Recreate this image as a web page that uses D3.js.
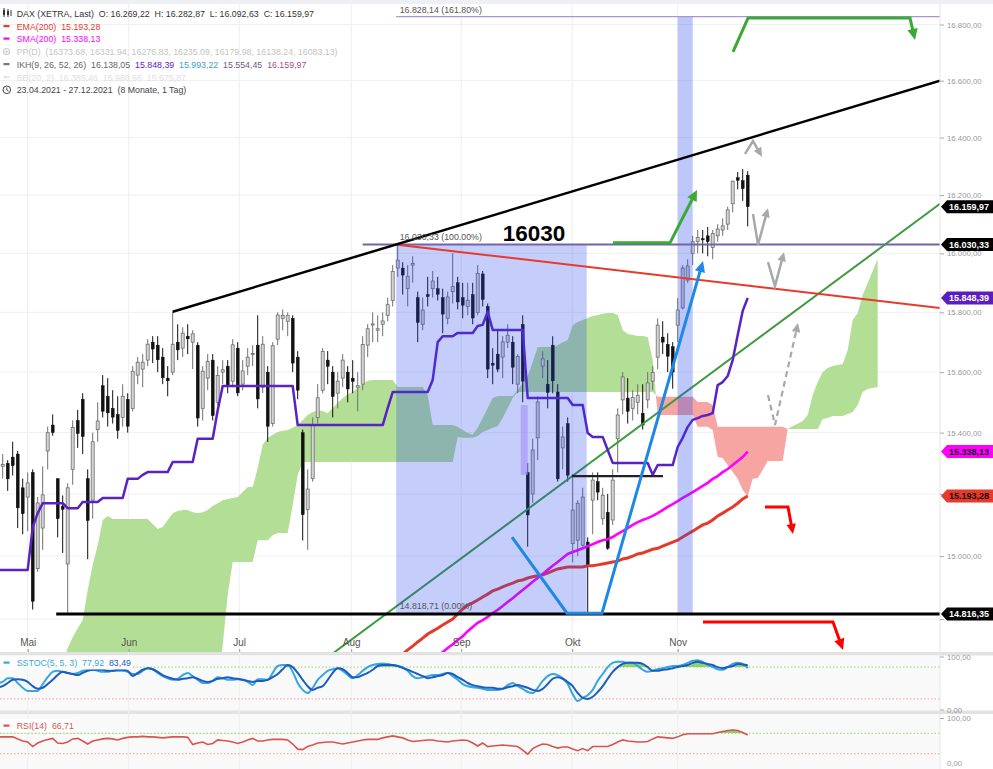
<!DOCTYPE html>
<html><head><meta charset="utf-8">
<script src="https://cdn.jsdelivr.net/npm/d3@7"></script>
<style>body{margin:0;background:#fff;}svg{display:block;font-family:"Liberation Sans",Arial,sans-serif;}text{white-space:pre;}</style>
</head><body><svg id="c" width="993" height="769"></svg>
<script>
// ---------------- DATA ----------------
const candleStart = -6; // trading-day index of first candle (0 = 03.05.2021)
const opens  = [15190,15290,15300,15320,15330,15220,15190,15270,14960,15090,15340,15425,15250,15160,14975,15280,15440,15510,15250,15180,15410,15555,15520,15480,15460,15450,15510,15480,15590,15610,15640,15700,15690,15650,15580,15600,15700,15680,15720,15700,15690,15480,15580,15640,15500,15600,15620,15570,15680,15560,15620,15660,15690,15550,15600,15430,15710,15780,15770,15780,15650,15400,15150,15250,15450,15540,15640,15600,15530,15580,15600,15580,15550,15560,15690,15760,15740,15760,15790,15840,15950,15950,15880,15960,15850,15760,15860,15880,15880,15850,15780,15870,15900,15850,15820,15860,15800,15930,15820,15630,15660,15650,15700,15700,15560,15760,15270,15200,15383,15620,15560,15690,15534,15350,15430,15040,15051,15035,15045,15180,15240,15120,15141,15116,15380,15508,15514,15480,15500,15464,15508,15570,15650,15717,15693,15685,15757,15815,15909,16000,16040,16050,16060,16020,16060,16080,16100,16170,16260,16250,16269.22];
const highs  = [15300,15330,15310,15370,15340,15250,15270,15280,15190,15290,15420,15460,15250,15195,15235,15440,15475,15530,15280,15400,15500,15590,15580,15540,15520,15560,15530,15620,15650,15660,15710,15720,15720,15680,15620,15802,15760,15750,15760,15740,15700,15620,15660,15660,15620,15640,15640,15710,15700,15640,15680,15690,15790,15720,15620,15700,15800,15810,15800,15790,15670,15410,15280,15450,15560,15680,15670,15620,15600,15660,15620,15640,15600,15720,15760,15800,15790,15800,15850,15960,16030.33,15970,15960,15990,15870,15850,15920,15940,15920,15880,15870,16000,15920,15900,15900,15900,15960,15940,15830,15680,15740,15720,15760,15720,15660,15790,15300,15380,15520,15670,15640,15720,15560,15420,15450,15265,15180,15220,15060,15270,15270,15220,15200,15280,15480,15600,15580,15540,15560,15560,15600,15620,15780,15770,15730,15700,15848,15960,15980,16060,16080,16080,16090,16080,16100,16120,16160,16250,16280,16290,16282.87];
const lows   = [15150,15250,15210,15260,15090,15070,15080,14830,14950,15020,15280,15390,15060,15010,14816.35,15230,15350,15330,14990,15120,15370,15450,15420,15430,15380,15420,15400,15470,15560,15550,15620,15630,15600,15560,15520,15590,15640,15650,15660,15610,15420,15440,15540,15440,15490,15560,15530,15550,15520,15540,15590,15620,15480,15530,15370,15420,15690,15740,15720,15600,15510,15050,15020,15240,15430,15530,15560,15450,15480,15550,15500,15530,15470,15540,15650,15700,15700,15720,15770,15820,15920,15860,15820,15900,15700,15740,15820,15850,15840,15730,15760,15830,15810,15780,15790,15760,15790,15820,15580,15560,15600,15580,15680,15560,15530,15500,15030,15170,15310,15580,15480,15530,15240,15280,15240,14980,15000,15030,14818.71,15070,15180,15100,15020,15100,15270,15460,15430,15440,15460,15410,15480,15540,15610,15660,15600,15545,15700,15810,15900,15960,16000,16000,15990,15980,16040,16060,16080,16140,16220,16180,16092.63];
const closes = [15280,15296,15249,15292,15155,15136,15236,14856,15171,15197,15400,15400,15120,15150,15220,15417,15397,15387,15114,15370,15438,15470,15465,15451,15407,15520,15421,15603,15633,15633,15693,15677,15641,15581,15571,15693,15674,15730,15711,15728,15448,15603,15636,15456,15589,15608,15554,15691,15531,15604,15650,15662,15511,15693,15421,15688,15791,15790,15789,15630,15540,15133,15216,15423,15515,15669,15619,15519,15570,15640,15544,15569,15555,15692,15745,15761,15745,15771,15826,15938,15977,15926,15922,15966,15766,15808,15853,15906,15861,15794,15852,15887,15835,15824,15841,15781,15932,15843,15610,15623,15610,15701,15723,15616,15652,15570,15132,15343,15501,15644,15532,15571,15249,15386,15261,15148,15170,15190,14970,15245,15206,15196,15025,15245,15458,15584,15470,15516,15523,15425,15564,15599,15757,15700,15653,15600,15808,15950,15957,16040,16054,16046,16040,16068,16083,16094,16149,16248,16251,16222,16159.97];

// Ichimoku Kijun-sen (purple), same start as candles
const kijun = [14956,14956,14956,14956,14956,14956,14956,15093,15138,15170,15170,15170,15170,15170,15154,15154,15154,15174,15174,15174,15174,15187,15187,15187,15187,15187,15249,15249,15249,15262,15271,15271,15271,15271,15271,15304,15304,15304,15304,15304,15380,15380,15380,15380,15474,15554,15554,15554,15554,15554,15554,15554,15554,15554,15554,15554,15554,15554,15554,15554,15425,15425,15425,15425,15425,15425,15425,15425,15425,15425,15425,15425,15425,15425,15425,15425,15425,15425,15481,15534,15534,15534,15534,15534,15534,15534,15534,15574,15700,15720,15720,15720,15731,15731,15731,15731,15754,15758,15802,15741,15741,15741,15741,15741,15741,15741,15514,15514,15514,15514,15514,15514,15514,15514,15514,15491,15491,15491,15399,15386,15386,15386,15343,15301,15301,15301,15301,15301,15301,15301,15301,15262,15294,15294,15294,15294,15353,15383,15419,15442,15448,15455,15458,15464,15557,15567,15587,15640,15724,15805,15848.39];

// Ichimoku cloud (Senkou spans, already shifted 26 days ahead)
const cloudStart = 6;
const spanA = [14609,14665,14709,14743,14771,14797,14892,14972,15035,15116,15129,15119,15119,15119,15119,15119,15119,15119,15119,15103,15087,15093,15116,15138,15145,15148,15148,15141,15138,15141,15148,15161,15170,15180,15184,15187,15190,15206,15223,15223,15284,15360,15383,15393,15402,15406,15409,15416,15425,15442,15458,15468,15474,15471,15464,15481,15498,15514,15527,15534,15547,15561,15571,15574,15574,15574,15574,15574,15551,15551,15551,15551,15551,15551,15524,15425,15425,15425,15425,15425,15419,15409,15399,15393,15416,15448,15481,15514,15521,15521,15521,15521,15541,15564,15587,15634,15684,15684,15684,15684,15690,15700,15707,15757,15768,15774,15781,15788,15791,15795,15798,15798,15791,15741,15727,15724,15721,15721,15717,15640,15458,15458,15458,15458,15458,15458,15458,15458,15419,15419,15419,15409,15320,15317,15294,15271,15249,15213,15193,15249,15252,15278,15307,15307,15307,15307,15412,15422,15429,15438,15458,15524,15567,15600,15614,15620,15624,15627,15674,15774,15798,15859,15899,15940,15981];
const spanB = [14578,14578,14578,14578,14578,14578,14578,14578,14578,14578,14578,14578,14578,14578,14578,14578,14578,14578,14578,14578,14578,14578,14578,14578,14578,14578,14578,14578,14578,14578,14578,14578,14578,14718,14876,14981,14981,14981,14981,14981,15051,15051,15051,15067,15074,15074,15074,15164,15262,15304,15304,15304,15304,15304,15304,15304,15304,15304,15304,15304,15304,15304,15304,15304,15304,15304,15304,15304,15304,15304,15304,15304,15304,15304,15304,15304,15304,15304,15304,15304,15386,15383,15383,15383,15389,15402,15409,15416,15422,15448,15481,15514,15534,15534,15534,15534,15534,15534,15534,15534,15534,15534,15534,15534,15534,15534,15534,15534,15534,15534,15534,15534,15534,15534,15534,15534,15534,15534,15534,15534,15518,15518,15518,15518,15518,15518,15518,15518,15501,15501,15501,15491,15419,15419,15419,15419,15419,15419,15419,15419,15419,15419,15419,15419,15419,15419,15412,15412,15412,15412,15412,15412,15412,15445,15448,15455,15455,15455,15461,15468,15491,15534,15544,15547,15551];

const smaStart = 82;
const sma200 = [14684,14696,14709,14721,14734,14746,14762,14775,14788,14797,14807,14819,14829,14841,14854,14866,14879,14892,14905,14918,14930,14943,14956,14969,14981,14994,15007,15013,15019,15025,15032,15038,15045,15051,15054,15061,15071,15080,15090,15100,15109,15116,15122,15129,15138,15148,15158,15167,15177,15187,15196,15206,15216,15226,15236,15249,15258,15271,15281,15294,15307,15320,15338.13];
const emaStart = 75;
const ema200 = [14690,14703,14715,14728,14740,14753,14762,14771,14781,14791,14800,14816,14832,14844,14851,14860,14870,14879,14889,14895,14902,14908,14914,14921,14924,14930,14934,14937,14940,14946,14953,14959,14962,14965,14965,14965,14965,14969,14969,14972,14975,14978,14981,14984,14991,14994,15000,15007,15010,15016,15022,15025,15032,15038,15045,15051,15061,15071,15080,15090,15100,15106,15116,15129,15138,15148,15158,15170,15184,15193.28];

// Indicators (start at candleStart)
const stochK = [50,52,59,59,50,41,35,35,35,48,61,71,73,71,69,67,69,73,75,75,73,71,71,73,73,73,71,67,67,73,78,76,69,63,59,56,58,65,69,63,56,50,50,54,61,59,56,56,57,56,52,46,57,57,56,69,82,84,84,71,50,37,31,41,56,65,73,76,78,73,65,59,65,73,80,84,86,87,86,84,82,80,73,63,59,61,63,65,65,67,69,63,56,48,44,42,41,39,37,37,37,39,46,50,44,39,33,31,41,54,63,67,65,59,48,29,16,22,27,37,54,67,80,88,90,90,88,88,82,75,71,73,76,78,80,82,82,84,88,92,93,90,84,80,76,75,80,86,88,86,77.92];
const stochD = [42,44,50,56,57,56,52,44,39,41,48,56,65,71,69,67,65,69,73,75,75,75,73,73,75,75,73,63,69,75,78,76,71,65,61,58,56,58,59,61,58,54,52,54,58,59,61,59,58,56,54,52,54,54,56,61,67,76,84,80,69,56,44,37,41,44,56,69,78,76,69,61,61,65,69,75,82,84,84,84,82,78,75,71,67,63,59,61,63,65,69,67,61,56,50,46,44,42,41,41,39,39,42,44,46,44,41,37,35,39,48,58,61,58,52,44,31,22,20,24,33,44,58,71,80,86,88,88,88,86,80,73,73,75,76,78,80,82,84,88,90,88,86,84,80,78,80,82,86,85,83.49];
const rsi14 = [63,63,63,63,59,55,53,44,51,55,58,60,51,50,53,59,60,55,49,55,57,59,60,59,57,60,62,63,63,64,63,63,62,61,62,63,63,63,62,48,51,53,48,50,57,56,55,53,50,53,57,60,55,55,57,58,58,58,57,49,39,38,44,47,51,52,53,53,51,49,51,53,55,57,58,58,58,61,63,65,63,61,57,54,55,56,57,57,55,54,53,55,56,57,56,51,45,51,44,45,46,47,46,45,44,37,29,40,45,49,48,44,41,43,43,39,36,40,36,44,44,44,44,48,53,57,55,54,53,53,54,59,63,62,61,60,63,67,69,69,69,69,69,69,71.5,73.5,75.5,76.5,75.5,71.5,66.71];

const priceTicks = [14800,15000,15200,15400,15600,15800,16000,16200,16400,16600,16800];
const hiddenTickLabels = [14800,15200]; // covered by value tags in the original
const monthLabels = ["Mai","Jun","Jul","Aug","Sep","Okt","Nov"];
const monthIdx = [0,20.2,42.3,64.7,86.7,108.9,130];

// Fibonacci retracement and drawings (trading-day index, price)
const fibHigh = {i:74, p:16030.33}, fibLow = {i:112, p:14818.71}, fibExt = 16828.14;
const supportLow = {i:5.7, p:14816.35};
const upperTrend = [[29,15802],[182.46,16600]];
const redTrend = [[73.5,16030.33],[182.46,15815]];
const greenTrend = [[58,14657],[182.46,16170]];
const blueV = [[96.86,15061],[107.86,14818.71],[114.86,14818.71],[135.06,15974]];
const blackShort = [[108.86,15258],[127.06,15258]];
const greenArrowMid = [[117.06,16036],[128.46,16036],[133.86,16218]];
const greenArrowTop = [[141.06,16702],[144.06,16823],[176.46,16823],[177.46,16745]];
const redArrowMid = [[147.46,15158],[152.06,15158],[153.06,15071]];
const redArrowLow = [[135.06,14791],[161.06,14791],[163.06,14703]];
const grayCaret = [[143.46,16343],[145.06,16388],[146.86,16333]];
const grayV1 = [[145.06,16135],[146.06,16030],[148.06,16155]];
const grayV2 = [[148.06,15970],[149.46,15889],[151.26,16004]];
const grayDash = [[148.06,15524],[149.46,15425],[154.06,15764]];
const novBand = [130,133];
const gapZone = [98.6,100,15262,15491];

const badges = [
  {p:16159.97, bg:"#000", fg:"#fff"},
  {p:16030.33, bg:"#000", fg:"#fff"},
  {p:15848.39, bg:"#5a1ec0", fg:"#fff"},
  {p:15338.13, bg:"#ff00ff", fg:"#111"},
  {p:15193.28, bg:"#e8392b", fg:"#111"},
  {p:14816.35, bg:"#000", fg:"#fff"}
];

// ---------------- CHART ----------------
const svg = d3.select("#c");
const loc = d3.formatLocale({decimal:",",thousands:".",grouping:[3],currency:["",""]});
const fmt = loc.format(",.2f");
const x = d3.scaleLinear().domain([-5.54,182.46]).range([0,940]);
const y = d3.scaleLog().domain([15000,16800]).range([556.1,24.5]);
const ys = d3.scaleLinear().domain([0,100]).range([709.5,656.5]);
const yr = d3.scaleLinear().domain([0,100]).range([769,718]);
const F = "Liberation Sans, Arial, sans-serif";

svg.append("rect").attr("width",993).attr("height",769).attr("fill","#fff");
svg.append("rect").attr("width",993).attr("height",4).attr("fill","#eef0f3");
svg.append("rect").attr("x",0).attr("y",652).attr("width",993).attr("height",3.5).attr("fill","#e2e2e2");
svg.append("rect").attr("x",0).attr("y",655.5).attr("width",940).attr("height",55).attr("fill","#f9f9f9");
svg.append("rect").attr("x",0).attr("y",710.5).attr("width",993).attr("height",3.5).attr("fill","#e2e2e2");
svg.append("rect").attr("x",0).attr("y",714).attr("width",940).attr("height",55).attr("fill","#f9f9f9");

const defs = svg.append("defs");
defs.append("clipPath").attr("id","pc").append("rect").attr("x",0).attr("y",4).attr("width",940).attr("height",648);
defs.append("clipPath").attr("id","sc").append("rect").attr("x",0).attr("y",655.5).attr("width",940).attr("height",55);
defs.append("clipPath").attr("id","rc").append("rect").attr("x",0).attr("y",714).attr("width",940).attr("height",55);
defs.append("clipPath").attr("id","s80").append("rect").attr("x",0).attr("y",655).attr("width",940).attr("height",ys(80)-655);
defs.append("clipPath").attr("id","r70").append("rect").attr("x",0).attr("y",714).attr("width",940).attr("height",yr(70)-714);

const grid = svg.append("g");
priceTicks.forEach(t=>grid.append("line").attr("x1",0).attr("x2",940).attr("y1",y(t)).attr("y2",y(t)).attr("stroke","#f0f0f0"));
monthIdx.forEach(t=>grid.append("line").attr("x1",x(t)).attr("x2",x(t)).attr("y1",4).attr("y2",769).attr("stroke","#eeeeee"));

const P = svg.append("g").attr("clip-path","url(#pc)");

// cloud
(function(){
  const pts = spanA.map((a,i)=>({k:cloudStart+i,a:a,b:spanB[i]}));
  const runs=[]; let cur=null;
  for(let i=0;i<pts.length;i++){
    const p=pts[i], s=p.a>=p.b;
    if(!cur){cur={s:s,pts:[p]};continue;}
    if(s===cur.s){cur.pts.push(p);}
    else{
      const q=pts[i-1];
      const t=(q.a-q.b)/((q.a-q.b)-(p.a-p.b));
      const v=q.a+t*(p.a-q.a);
      const c={k:q.k+t*(p.k-q.k),a:v,b:v};
      cur.pts.push(c); runs.push(cur); cur={s:s,pts:[c,p]};
    }
  }
  runs.push(cur);
  runs.forEach(r=>{
    const poly = r.pts.map(d=>[x(d.k),y(d.a)]).concat(r.pts.slice().reverse().map(d=>[x(d.k),y(d.b)]));
    P.append("path").attr("d",d3.line()(poly)+"Z").attr("fill",r.s?"#b2df95":"#f6a5a2");
  });
})();

// candles
const cg = P.append("g");
opens.forEach((o,i)=>{
  const k=i+candleStart, c=closes[i], up=c>=o;
  const cx=x(k);
  const col = up?"#6f6f6f":"#111";
  cg.append("line").attr("x1",cx).attr("x2",cx).attr("y1",y(highs[i])).attr("y2",y(lows[i])).attr("stroke",col).attr("stroke-width",1);
  const top=y(Math.max(o,c)), bot=y(Math.min(o,c));
  cg.append("rect").attr("x",cx-1.5).attr("y",top).attr("width",3).attr("height",Math.max(1,bot-top))
    .attr("fill",up?"#d4d4d4":"#111").attr("stroke",col).attr("stroke-width",up?0.8:0.4);
});

const ln = d3.line().x(d=>x(d[0])).y(d=>y(d[1]));
P.append("path").attr("d",ln(greenTrend)).attr("stroke","#3d9c3d").attr("stroke-width",2).attr("fill","none");
P.append("path").attr("d",ln(ema200.map((v,i)=>[emaStart+i,v]))).attr("stroke","#e53a2a").attr("stroke-width",3).attr("fill","none");
P.append("path").attr("d",ln(sma200.map((v,i)=>[smaStart+i,v]))).attr("stroke","#ff00ff").attr("stroke-width",2.6).attr("fill","none");
P.append("path").attr("d",ln(kijun.map((v,i)=>[candleStart+i,v]))).attr("stroke","#5a22c4").attr("stroke-width",2.5).attr("fill","none").attr("stroke-linejoin","round");

P.append("rect").attr("x",x(gapZone[0])).attr("width",x(gapZone[1])-x(gapZone[0])).attr("y",y(gapZone[3])).attr("height",y(gapZone[2])-y(gapZone[3])).attr("fill","#d9b8ff").attr("opacity",0.7);
P.append("rect").attr("x",x(fibHigh.i)-1.5).attr("width",x(fibLow.i)-x(fibHigh.i)+0.5).attr("y",y(fibHigh.p)).attr("height",y(fibLow.p)-y(fibHigh.p)).attr("fill","rgb(40,70,240)").attr("opacity",0.27);
P.append("rect").attr("x",x(novBand[0])).attr("width",x(novBand[1])-x(novBand[0])).attr("y",y(fibExt)).attr("height",y(fibLow.p)-y(fibExt)).attr("fill","rgb(40,70,240)").attr("opacity",0.3);

P.append("line").attr("x1",x(67)).attr("x2",940).attr("y1",y(fibHigh.p)).attr("y2",y(fibHigh.p)).attr("stroke","#7565a8").attr("stroke-width",1.8);
P.append("line").attr("x1",x(fibHigh.i)-1.5).attr("x2",940).attr("y1",y(fibExt)).attr("y2",y(fibExt)).attr("stroke","#a893dc").attr("stroke-width",1.4);
P.append("line").attr("x1",x(supportLow.i)).attr("x2",940).attr("y1",y(supportLow.p)).attr("y2",y(supportLow.p)).attr("stroke","#000").attr("stroke-width",3);

P.append("path").attr("d",ln(redTrend)).attr("stroke","#e8392b").attr("stroke-width",2).attr("fill","none");
P.append("path").attr("d",ln(upperTrend)).attr("stroke","#000").attr("stroke-width",2.5).attr("fill","none");
P.append("path").attr("d",ln(blackShort)).attr("stroke","#222").attr("stroke-width",2.2).attr("fill","none");

function arrow(pts,color,w,head,dash){
  const Q=pts.map(d=>[x(d[0]),y(d[1])]);
  const n=Q.length,a=Q[n-2],b=Q[n-1];
  const ang=Math.atan2(b[1]-a[1],b[0]-a[0]);
  const L=head, W=head*0.95;
  const cut=[b[0]-Math.cos(ang)*L*0.6,b[1]-Math.sin(ang)*L*0.6];
  const lp=Q.slice(0,n-1).concat([cut]);
  P.append("path").attr("d",d3.line()(lp)).attr("fill","none").attr("stroke",color).attr("stroke-width",w).attr("stroke-dasharray",dash||null).attr("stroke-linejoin","miter");
  const base=[b[0]-Math.cos(ang)*L,b[1]-Math.sin(ang)*L];
  const nx=-Math.sin(ang),ny=Math.cos(ang);
  P.append("path").attr("d",`M${b[0]},${b[1]}L${base[0]+nx*W/2},${base[1]+ny*W/2}L${base[0]-nx*W/2},${base[1]-ny*W/2}Z`).attr("fill",color);
}
arrow(blueV,"#1e88e5",3,11);
arrow(greenArrowMid,"#3aa935",3,11);
arrow(greenArrowTop,"#3aa935",3,11);
arrow(redArrowMid,"#ff0000",3,10);
arrow(redArrowLow,"#ff0000",3,11);
arrow(grayCaret,"#a8a8a8",2.5,9);
arrow(grayV1,"#a8a8a8",2.5,9);
arrow(grayV2,"#a8a8a8",2.5,9);
arrow(grayDash,"#a8a8a8",2.2,9,"6,4");

const FL = P.append("g").attr("font-family",F).attr("font-size","8.8px").attr("fill","#555");
FL.append("text").attr("x",x(fibHigh.i)+2).attr("y",y(fibExt)-4).text(fmt(fibExt)+" (161.80%)");
FL.append("text").attr("x",x(fibHigh.i)+2).attr("y",y(fibHigh.p)-4).text(fmt(fibHigh.p)+" (100.00%)");
FL.append("text").attr("x",x(fibHigh.i)+2).attr("y",y(fibLow.p)-4).text(fmt(fibLow.p)+" (0.00%)");
P.append("text").attr("x",x(95)).attr("y",y(fibHigh.p)-3).attr("font-family",F).attr("font-weight","bold").attr("font-size","22.5px").attr("fill","#000").attr("stroke","#fff").attr("stroke-width",0.6).attr("paint-order","stroke").text("16030");

// ---------- indicators ----------
const S = svg.append("g").attr("clip-path","url(#sc)");
S.append("line").attr("x1",0).attr("x2",940).attr("y1",ys(80)).attr("y2",ys(80)).attr("stroke","#9ad36f").attr("stroke-dasharray","1.5,2");
S.append("line").attr("x1",0).attr("x2",940).attr("y1",ys(20)).attr("y2",ys(20)).attr("stroke","#f0a0a0").attr("stroke-dasharray","1.5,2");
const sl = d3.line().x(d=>x(d[0])).y(d=>ys(d[1])).curve(d3.curveMonotoneX);
const sArea = d3.area().x(d=>x(d[0])).y0(ys(80)).y1(d=>ys(d[1])).curve(d3.curveMonotoneX);
S.append("g").attr("clip-path","url(#s80)").append("path").attr("d",sArea(stochD.map((v,i)=>[candleStart+i,v]))).attr("fill","#8fd16a");
S.append("path").attr("d",sl(stochK.map((v,i)=>[candleStart+i,v]))).attr("stroke","#35a7dd").attr("stroke-width",2).attr("fill","none");
S.append("path").attr("d",sl(stochD.map((v,i)=>[candleStart+i,v]))).attr("stroke","#1a5cc2").attr("stroke-width",2).attr("fill","none");

const R = svg.append("g").attr("clip-path","url(#rc)");
R.append("line").attr("x1",0).attr("x2",940).attr("y1",yr(70)).attr("y2",yr(70)).attr("stroke","#9ad36f").attr("stroke-dasharray","1.5,2");
R.append("line").attr("x1",0).attr("x2",940).attr("y1",yr(30)).attr("y2",yr(30)).attr("stroke","#f0a0a0").attr("stroke-dasharray","1.5,2");
const rl = d3.line().x(d=>x(d[0])).y(d=>yr(d[1]));
const rArea = d3.area().x(d=>x(d[0])).y0(yr(70)).y1(d=>yr(d[1]));
R.append("g").attr("clip-path","url(#r70)").append("path").attr("d",rArea(rsi14.map((v,i)=>[candleStart+i,v]))).attr("fill","#8fd16a");
R.append("path").attr("d",rl(rsi14.map((v,i)=>[candleStart+i,v]))).attr("stroke","#d9534f").attr("stroke-width",1.6).attr("fill","none");

// ---------- axes ----------
svg.append("line").attr("x1",940).attr("x2",940).attr("y1",4).attr("y2",769).attr("stroke","#e6e6e6");
const ay = svg.append("g").attr("transform","translate(940,0)").call(d3.axisRight(y).tickValues(priceTicks).tickFormat(d=>hiddenTickLabels.includes(d)?"":fmt(d)).tickSize(4));
const as = svg.append("g").attr("transform","translate(940,0)").call(d3.axisRight(ys).tickValues([0,100]).tickFormat(fmt).tickSize(4));
const ar = svg.append("g").attr("transform","translate(940,0)").call(d3.axisRight(yr).tickValues([0,100]).tickFormat(fmt).tickSize(4));
[ay,as,ar].forEach(g=>{g.select(".domain").remove();g.selectAll("line").attr("stroke","#aaa");g.selectAll("text").attr("font-family",F).attr("font-size","7.8px").attr("fill","#999");});
ar.selectAll("text").filter(d=>d===0).attr("dy","-0.5em");
const ax = svg.append("g").attr("transform","translate(0,652)").call(d3.axisTop(x).tickValues(monthIdx).tickFormat((d,i)=>monthLabels[i]).tickSize(3));
ax.select(".domain").remove();
ax.selectAll("line").attr("stroke","#999");
ax.selectAll("text").attr("font-family",F).attr("font-size","10px").attr("fill","#555");

badges.forEach(b=>{
  const cy=y(b.p);
  svg.append("path").attr("d",`M941,${cy}L947,${cy-6.5}L993,${cy-6.5}L993,${cy+6.5}L947,${cy+6.5}Z`).attr("fill",b.bg);
  svg.append("text").attr("x",949).attr("y",cy+3.3).attr("font-family",F).attr("font-weight","bold").attr("font-size","9px").attr("fill",b.fg).text(fmt(b.p));
});

// ---------- legends ----------
const LG = svg.append("g").attr("font-family",F).attr("font-size","8.8px");
function row(yy,parts){const t=LG.append("text").attr("x",16.7).attr("y",yy).attr("xml:space","preserve");parts.forEach(p=>t.append("tspan").attr("fill",p[1]).text(p[0]));}
LG.append("line").attr("x1",4).attr("x2",4).attr("y1",8).attr("y2",17).attr("stroke","#333");
LG.append("rect").attr("x",3).attr("y",10).attr("width",2).attr("height",5).attr("fill","#333");
LG.append("line").attr("x1",8).attr("x2",8).attr("y1",9).attr("y2",17).attr("stroke","#333");
LG.append("rect").attr("x",7).attr("y",11).attr("width",2).attr("height",4).attr("fill","#333");
LG.append("line").attr("x1",11).attr("x2",11).attr("y1",10).attr("y2",16).attr("stroke","#333");
row(17.3,[["DAX (XETRA, Last)  O: 16.269,22  H: 16.282,87  L: 16.092,63  C: 16.159,97","#333"]]);
LG.append("rect").attr("x",3.5).attr("y",25).attr("width",6).attr("height",2.2).attr("fill","#e8392b");
row(29.5,[["EMA(200)  15.193,28","#e8392b"]]);
LG.append("rect").attr("x",3.5).attr("y",37.5).attr("width",6).attr("height",2.2).attr("fill","#ff00ff");
row(42,[["SMA(200)  15.338,13","#ff00ff"]]);
LG.append("circle").attr("cx",6.5).attr("cy",51.5).attr("r",3).attr("fill","none").attr("stroke","#ccc").attr("stroke-width",1.2);
LG.append("circle").attr("cx",6.5).attr("cy",51.5).attr("r",1.2).attr("fill","#ccc");
row(55,[["PP(D)  (16373.68, 16331.94, 16276.83, 16235.09, 16179.98, 16138.24, 16083.13)","#c4c4c4"]]);
LG.append("rect").attr("x",3.5).attr("y",63).attr("width",6).attr("height",2.2).attr("fill","#777");
row(67.5,[["IKH(9, 26, 52, 26)  16.138,05  ","#666"],["15.848,39  ","#5a22c4"],["15.993,22  ","#3aa0c8"],["15.554,45  ","#6a5a8a"],["16.159,97","#a0508a"]]);
LG.append("rect").attr("x",3.5).attr("y",76).attr("width",6).attr("height",2.2).attr("fill","#e4e4e4");
row(80.5,[["BB(20, 2)  16.385,46  15.980,66  15.575,87","#e0e0e0"]]);
LG.append("circle").attr("cx",6.8).attr("cy",89.8).attr("r",3.8).attr("fill","none").attr("stroke","#444").attr("stroke-width",1);
LG.append("path").attr("d","M6.8,87.5L6.8,90L8.6,91").attr("stroke","#444").attr("fill","none").attr("stroke-width",0.9);
row(93,[["23.04.2021 - 27.12.2021  (8 Monate, 1 Tag)","#444"]]);

svg.append("rect").attr("x",0).attr("y",656.5).attr("width",133).attr("height",13).attr("fill","#fff").attr("opacity",0.85);
svg.append("rect").attr("x",3.5).attr("y",661.5).attr("width",6).attr("height",2.2).attr("fill","#35a7dd");
const st=svg.append("text").attr("x",16.7).attr("y",666).attr("font-family",F).attr("font-size","8.8px").attr("xml:space","preserve");
st.append("tspan").attr("fill","#35a7dd").text("SSTOC(5, 5, 3)  77,92  ");
st.append("tspan").attr("fill","#1a5cc2").text("83,49");
svg.append("rect").attr("x",0).attr("y",719).attr("width",73).attr("height",13).attr("fill","#fff").attr("opacity",0.85);
svg.append("rect").attr("x",3.5).attr("y",724.5).attr("width",6).attr("height",2.2).attr("fill","#d9534f");
svg.append("text").attr("x",16.7).attr("y",729).attr("font-family",F).attr("font-size","8.8px").attr("fill","#d9534f").attr("xml:space","preserve").text("RSI(14)  66,71");
</script></body></html>
